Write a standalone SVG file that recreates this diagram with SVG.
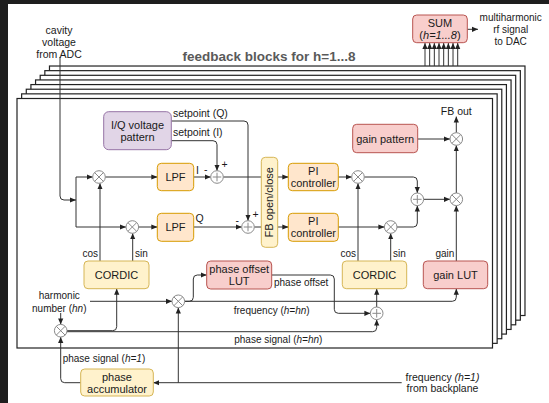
<svg xmlns="http://www.w3.org/2000/svg" xmlns:xlink="http://www.w3.org/1999/xlink" width="549" height="403" viewBox="0 0 549 403">
  <style>
    text { font-family: "Liberation Sans", Arial, Helvetica, sans-serif; fill: #1a1a1a; }
    .box { font-size: 11px; text-anchor: middle; }
    .lbl { font-size: 10px; }
    .cap { font-size: 10.5px; }
    .mid { text-anchor: middle; }
    .end { text-anchor: end; }
    .title { font-size: 13.5px; font-weight: bold; fill: #5a5a5a; }
    .frame { fill: #ffffff; stroke: #222222; stroke-width: 1.2; }
    .orange { fill: #ffe6cc; stroke: #d79b00; stroke-width: 1; }
    .yellow { fill: #fff2cc; stroke: #d6b656; stroke-width: 1; }
    .red { fill: #f8cecc; stroke: #b85450; stroke-width: 1; }
    .purple { fill: #e1d5e7; stroke: #9673a6; stroke-width: 1; }
    .wire { fill: none; stroke: #333333; stroke-width: 1; }
    .arr { marker-end: url(#head); }
    .op { fill: #ffffff; stroke: #8a8a8a; stroke-width: 1; }
    .opl { stroke: #8a8a8a; stroke-width: 1; }
  </style>
  <defs>
    <marker id="head" viewBox="0 0 6 6" refX="6" refY="3" markerWidth="6" markerHeight="6" markerUnits="userSpaceOnUse" orient="auto">
      <path d="M0,0.4 L6,3 L0,5.6 Z" fill="#222222"/>
    </marker>
    <g id="mul">
      <circle class="op" r="6.3"/>
      <line class="opl" x1="-4.45" y1="-4.45" x2="4.45" y2="4.45"/>
      <line class="opl" x1="-4.45" y1="4.45" x2="4.45" y2="-4.45"/>
    </g>
    <g id="add">
      <circle class="op" r="6.3"/>
      <line class="opl" x1="-4.3" y1="0" x2="4.3" y2="0"/>
      <line class="opl" x1="0" y1="-4.3" x2="0" y2="4.3"/>
    </g>
  </defs>

  <rect x="0" y="0" width="549" height="403" fill="#ffffff"/>
  <!-- dark window edge -->
  <rect x="0" y="0" width="549" height="4" fill="#1e1e1e"/>
  <rect x="0" y="0" width="8" height="403" fill="#1e1e1e"/>

  <!-- stacked feedback blocks, back to front -->
  <g id="frames">
    <rect class="frame" x="49.48" y="66.02" width="475.5" height="249.5"/>
    <rect class="frame" x="44.84" y="70.66" width="475.5" height="249.5"/>
    <rect class="frame" x="40.2" y="75.3" width="475.5" height="249.5"/>
    <rect class="frame" x="35.56" y="79.94" width="475.5" height="249.5"/>
    <rect class="frame" x="30.92" y="84.58" width="475.5" height="249.5"/>
    <rect class="frame" x="26.28" y="89.22" width="475.5" height="249.5"/>
    <rect class="frame" x="21.64" y="93.86" width="475.5" height="249.5"/>
    <rect class="frame" x="17" y="98.5" width="475.5" height="249.5"/>
  </g>

  <text class="title" x="182.5" y="61">feedback blocks for h=1...8</text>

  <!-- connectors -->
  <g id="connectors">
    <path class="wire arr" d="M60,57 V196 Q60,200 64,200 H76"/>
    <path class="wire" d="M76,177 V227"/>
    <path class="wire arr" d="M76,177 H92.7"/>
    <path class="wire arr" d="M76,227 H126"/>
    <path class="wire arr" d="M105.3,177 H157.3"/>
    <path class="wire arr" d="M138.6,227 H157.3"/>
    <path class="wire arr" d="M193.7,177 H210.7"/>
    <path class="wire arr" d="M193.7,227 H241.7"/>
    <path class="wire arr" d="M171.3,121 H244 Q248,121 248,125 V220.7"/>
    <path class="wire arr" d="M171.3,140.7 H213 Q217,140.7 217,144.7 V170.7"/>
    <path class="wire" d="M223.3,177 H261.3"/>
    <path class="wire" d="M254.3,227 H261.3"/>
    <path class="wire arr" d="M277.7,177 H288.3"/>
    <path class="wire arr" d="M277.7,227 H288.3"/>
    <path class="wire arr" d="M338.3,177 H351.7"/>
    <path class="wire arr" d="M338.3,227 H384.4"/>
    <path class="wire arr" d="M364.3,177 H413.3 Q417.3,177 417.3,181 V193"/>
    <path class="wire arr" d="M397,227 H413.3 Q417.3,227 417.3,223 V205.6"/>
    <path class="wire arr" d="M423.6,199.3 H450"/>
    <path class="wire arr" d="M456.3,193 V145.3"/>
    <path class="wire arr" d="M417.7,139 H450"/>
    <path class="wire arr" d="M456.3,132.7 V116.5"/>
    <path class="wire arr" d="M100,261 V183.3"/>
    <path class="wire arr" d="M132.7,261 V233.3"/>
    <path class="wire arr" d="M358,261 V183.3"/>
    <path class="wire arr" d="M390.7,261 V233.3"/>
    <path class="wire arr" d="M456.3,261 V205.6"/>
    <path class="wire arr" d="M60.7,313 V324.4"/>
    <path class="wire arr" d="M90,301.3 H172"/>
    <path class="wire arr" d="M67,330.7 H112.7 Q116.7,330.7 116.7,326.7 V288.7"/>
    <path class="wire arr" d="M67,331.7 H372.7 Q376.7,331.7 376.7,327.7 V319.6"/>
    <path class="wire arr" d="M80.7,382.7 H64.7 Q60.7,382.7 60.7,378.7 V337"/>
    <path class="wire arr" d="M401.7,382.7 H153.3"/>
    <path class="wire arr" d="M178.3,382.7 V307.6"/>
    <path class="wire arr" d="M184.6,301.3 H189.3 Q193.3,301.3 193.3,297.3 V279 Q193.3,275 197.3,275 H206.7"/>
    <path class="wire arr" d="M184.6,301.3 H452.3 Q456.3,301.3 456.3,297.3 V288.7"/>
    <path class="wire arr" d="M271.7,275 H330.3 Q334.3,275 334.3,279 V309.3 Q334.3,313.3 338.3,313.3 H370.4"/>
    <path class="wire arr" d="M376.7,307 V288.7"/>
    <path class="wire arr" d="M467.3,29.3 H478"/>
    <path class="wire arr" d="M425,66 V43"/>
    <path class="wire arr" d="M429.67,66 V43"/>
    <path class="wire arr" d="M434.34,66 V43"/>
    <path class="wire arr" d="M439.01,66 V43"/>
    <path class="wire arr" d="M443.68,66 V43"/>
    <path class="wire arr" d="M448.35,66 V43"/>
    <path class="wire arr" d="M453.02,66 V43"/>
    <path class="wire arr" d="M457.69,66 V43"/>
  </g>

  <!-- operators -->
  <g id="mix-in-i"><use xlink:href="#mul" x="99" y="177"/></g>
  <g id="mix-in-q"><use xlink:href="#mul" x="132.3" y="227"/></g>
  <g id="sum-i"><use xlink:href="#add" x="217" y="177"/></g>
  <g id="sum-q"><use xlink:href="#add" x="248" y="227"/></g>
  <g id="mix-out-i"><use xlink:href="#mul" x="358" y="177"/></g>
  <g id="mix-out-q"><use xlink:href="#mul" x="390.7" y="227"/></g>
  <g id="sum-iq"><use xlink:href="#add" x="417.3" y="199.3"/></g>
  <g id="mix-gain"><use xlink:href="#mul" x="456.3" y="199.3"/></g>
  <g id="mix-pattern"><use xlink:href="#mul" x="456.3" y="139"/></g>
  <g id="mix-hn"><use xlink:href="#mul" x="60.7" y="330.7"/></g>
  <g id="mix-freq"><use xlink:href="#mul" x="178.3" y="301.3"/></g>
  <g id="sum-phase"><use xlink:href="#add" x="376.7" y="313.3"/></g>

  <!-- blocks -->
  <g id="sum-out">
    <rect class="red" x="412.7" y="15" width="54.6" height="27.7" rx="4"/>
    <text class="box" x="440" y="27">SUM</text>
    <text class="box" x="440" y="39">(<tspan font-style="italic">h=1...8</tspan>)</text>
  </g>
  <g id="iq-pattern">
    <rect class="purple" x="103.7" y="111.7" width="67.6" height="38" rx="5"/>
    <text class="box" x="137.5" y="128.5">I/Q voltage</text>
    <text class="box" x="137.5" y="141">pattern</text>
  </g>
  <g id="lpf-i">
    <rect class="orange" x="157.3" y="163.3" width="36.4" height="27.4" rx="4"/>
    <text class="box" x="175.5" y="181">LPF</text>
  </g>
  <g id="lpf-q">
    <rect class="orange" x="157.3" y="213.3" width="36.4" height="28" rx="4"/>
    <text class="box" x="175.5" y="231.3">LPF</text>
  </g>
  <g id="fb-switch">
    <rect class="yellow" x="261.3" y="157.3" width="16.4" height="90" rx="4"/>
    <text class="box" transform="translate(273.3,202.3) rotate(-90)">FB open/close</text>
  </g>
  <g id="pi-i">
    <rect class="orange" x="288.3" y="163.3" width="50" height="27.4" rx="4"/>
    <text class="box" x="313.3" y="174.5">PI</text>
    <text class="box" x="313.3" y="187">controller</text>
  </g>
  <g id="pi-q">
    <rect class="orange" x="288.3" y="213.3" width="50" height="28" rx="4"/>
    <text class="box" x="313.3" y="224.5">PI</text>
    <text class="box" x="313.3" y="237">controller</text>
  </g>
  <g id="gain-pattern">
    <rect class="red" x="352.7" y="124.3" width="65" height="28.4" rx="4"/>
    <text class="box" x="385.2" y="142.5">gain pattern</text>
  </g>
  <g id="cordic-1">
    <rect class="yellow" x="84" y="261" width="65" height="27.7" rx="4"/>
    <text class="box" x="116.5" y="278.8">CORDIC</text>
  </g>
  <g id="phase-offset-lut">
    <rect class="red" x="206.7" y="261" width="65" height="28" rx="4"/>
    <text class="box" x="239.2" y="272.5">phase offset</text>
    <text class="box" x="239.2" y="285">LUT</text>
  </g>
  <g id="cordic-2">
    <rect class="yellow" x="342.3" y="261" width="64.4" height="27.7" rx="4"/>
    <text class="box" x="374.5" y="278.8">CORDIC</text>
  </g>
  <g id="gain-lut">
    <rect class="red" x="423.3" y="261" width="64.4" height="27.7" rx="4"/>
    <text class="box" x="455.5" y="278.8">gain LUT</text>
  </g>
  <g id="phase-acc">
    <rect class="yellow" x="80.7" y="369" width="72.6" height="27" rx="4"/>
    <text class="box" x="117" y="381">phase</text>
    <text class="box" x="117" y="393">accumulator</text>
  </g>

  <!-- captions and signal labels -->
  <g id="labels">
    <text class="cap mid" x="59" y="34">cavity</text>
    <text class="cap mid" x="59" y="46">voltage</text>
    <text class="cap mid" x="59" y="58">from ADC</text>
    <text class="lbl mid" x="510.7" y="21">multiharmonic</text>
    <text class="lbl mid" x="510.7" y="33">rf signal</text>
    <text class="lbl mid" x="510.7" y="45">to DAC</text>
    <text class="cap" x="173" y="116.5">setpoint (Q)</text>
    <text class="cap" x="173" y="136.3">setpoint (I)</text>
    <text class="cap" x="196" y="174">I</text>
    <text class="cap" x="204" y="173">-</text>
    <text class="cap" x="221.5" y="168">+</text>
    <text class="cap" x="195.5" y="221.5">Q</text>
    <text class="cap" x="235.5" y="223.5">-</text>
    <text class="cap" x="252.5" y="218">+</text>
    <text class="cap mid" x="456.3" y="115.3">FB out</text>
    <text class="lbl end" x="98" y="257">cos</text>
    <text class="lbl" x="135" y="257">sin</text>
    <text class="lbl end" x="356" y="257">cos</text>
    <text class="lbl" x="393" y="257">sin</text>
    <text class="lbl end" x="454.3" y="257">gain</text>
    <text class="lbl mid" x="59.3" y="298.5">harmonic</text>
    <text class="lbl mid" x="59.3" y="311.5">number (<tspan font-style="italic">hn</tspan>)</text>
    <text class="lbl" x="274" y="286">phase offset</text>
    <text class="lbl mid" x="271.7" y="313.5">frequency (<tspan font-style="italic">h=hn</tspan>)</text>
    <text class="lbl mid" x="278.3" y="343">phase signal (<tspan font-style="italic">h=hn</tspan>)</text>
    <text class="lbl" x="62.7" y="362">phase signal (<tspan font-style="italic">h=1</tspan>)</text>
    <text class="cap mid" x="442.5" y="380.5">frequency <tspan font-style="italic">(h=1)</tspan></text>
    <text class="cap mid" x="442.5" y="392">from backplane</text>
  </g>
</svg>
